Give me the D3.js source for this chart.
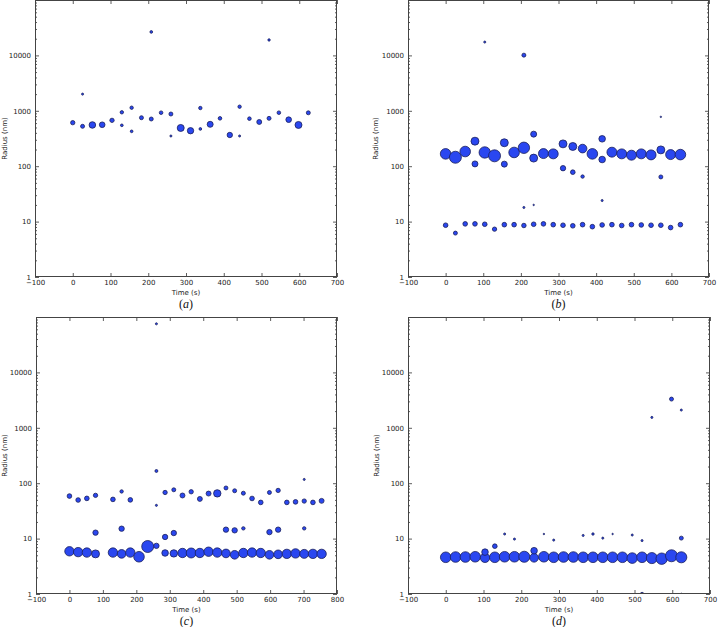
<!DOCTYPE html>
<html>
<head>
<meta charset="utf-8">
<script src="https://cdn.jsdelivr.net/npm/d3@7"></script>
<style>
  body { margin: 0; background: #fff; }
  svg { display: block; }
  .tick text { font-family: "DejaVu Sans", sans-serif; font-size: 7px; fill: #222; }
  .tick line { stroke: #333; stroke-width: 0.8; }
</style>
</head>
<body>
<script>
// times (s), radius (nm) and marker weight (relative intensity) per panel

// panel (a)
var aTime   = [0, 26, 26, 52, 78, 104, 130, 130, 156, 156, 182, 208, 208, 234, 260, 260, 286, 312, 338, 338, 364, 390, 416, 442, 442, 468, 494, 520, 520, 546, 572, 598, 624];
var aRadius = [610, 525, 2000, 555, 560, 673, 940, 547, 1137, 426, 750, 26500, 711, 924, 875, 351, 490, 437, 1122, 470, 570, 731, 366, 1186, 351, 721, 628, 19000, 731, 924, 692, 555, 920];
var aWeight = [13, 11, 3, 30, 22, 13, 8, 5, 8, 5, 11, 5, 11, 9, 11, 3, 34, 28, 8, 5, 25, 9, 20, 8, 3, 9, 17, 4, 11, 9, 22, 34, 11];

// panel (b)
var bTime   = [0, 26, 52, 78, 78, 104, 104, 130, 156, 156, 182, 208, 208, 208, 234, 234, 234, 260, 286, 312, 312, 338, 338, 364, 364, 390, 416, 416, 416, 442, 468, 494, 520, 546, 572, 572, 572, 598, 624,
               0, 26, 52, 78, 104, 130, 156, 182, 208, 234, 260, 286, 312, 338, 364, 390, 416, 442, 468, 494, 520, 546, 572, 598, 624];
var bRadius = [167, 145, 184, 283, 110, 177, 17400, 154, 265, 109, 177, 215, 10100, 18, 379, 140, 20, 169, 167, 253, 92, 227, 78, 208, 65, 167, 312, 132, 24, 179, 167, 158, 167, 160, 197, 64, 777, 162, 162,
               8.6, 6.2, 9.1, 9.1, 8.95, 7.3, 8.8, 8.8, 8.5, 8.95, 9.1, 8.8, 8.6, 8.4, 8.8, 8.1, 8.7, 8.8, 8.5, 8.8, 8.7, 8.6, 8.6, 7.8, 8.8];
var bWeight = [78, 100, 78, 44, 25, 90, 3, 100, 44, 25, 78, 90, 11, 3, 25, 44, 1.5, 69, 69, 44, 20, 44, 15, 52, 8, 78, 30, 30, 3, 69, 69, 69, 69, 69, 44, 11, 1.5, 69, 78,
               15, 11, 15, 15, 15, 13, 15, 15, 14, 15, 15, 15, 15, 15, 15, 15, 15, 15, 15, 15, 15, 15, 15, 15, 15];

// panel (c)
var cTime   = [0, 26, 52, 78, 130, 156, 182, 208, 234, 260, 286, 312, 338, 364, 390, 416, 442, 468, 494, 520, 546, 572, 598, 624, 650, 676, 702, 728, 754,
               78, 156, 286, 312, 468, 494, 520, 598, 624, 702,
               0, 26, 52, 78, 130, 156, 182, 260, 260, 260, 286, 312, 338, 364, 390, 416, 442, 468, 494, 520, 546, 572, 598, 624, 650, 676, 702, 702, 728, 754];
var cRadius = [5.9, 5.7, 5.6, 5.3, 5.6, 5.3, 5.6, 4.7, 7.2, 7.4, 5.5, 5.4, 5.5, 5.5, 5.5, 5.8, 5.6, 5.4, 5.1, 5.5, 5.6, 5.5, 5.1, 5.2, 5.3, 5.4, 5.3, 5.3, 5.3,
               12.8, 15.1, 10.7, 12.6, 14.5, 14.1, 15.3, 13.1, 14.5, 15.3,
               58.6, 49.7, 53.2, 60.3, 51, 71, 50, 75300, 166, 39.8, 68, 76, 60, 70, 52, 65, 65.5, 82, 73, 66, 53, 45, 68, 74, 45, 46, 47.6, 117, 45, 48];
var cWeight = [61, 61, 61, 44, 61, 52, 61, 78, 100, 20, 30, 38, 61, 69, 61, 61, 61, 52, 52, 61, 61, 61, 52, 52, 61, 61, 56, 61, 61,
               20, 20, 20, 20, 20, 20, 8, 20, 20, 8,
               15, 15, 15, 13, 15, 8, 15, 3, 6, 3, 13, 11, 17, 13, 17, 17, 38, 11, 11, 11, 15, 15, 11, 13, 15, 15, 13, 3, 15, 17];

// panel (d)
var dTime   = [0, 26, 52, 78, 104, 130, 156, 182, 208, 234, 260, 286, 312, 338, 364, 390, 416, 442, 468, 494, 520, 546, 572, 598, 624,
               104, 130, 234,
               156, 182, 260, 286, 364, 390, 416, 442, 494, 520, 624,
               546, 598, 624, 520, 624];
var dRadius = [4.6, 4.65, 4.65, 4.7, 4.5, 4.6, 4.7, 4.7, 4.7, 4.5, 4.7, 4.6, 4.65, 4.65, 4.6, 4.6, 4.6, 4.6, 4.6, 4.45, 4.6, 4.45, 4.34, 4.9, 4.6,
               5.7, 7.3, 6.05,
               12.1, 9.8, 12.1, 9.4, 11.4, 12.1, 10.2, 12.1, 11.6, 9.2, 10.2,
               1540, 3300, 2090, 1, 1];
var dWeight = [78, 78, 78, 78, 61, 78, 78, 78, 85, 52, 78, 78, 78, 78, 78, 78, 78, 78, 78, 78, 78, 85, 90, 100, 85,
               30, 15, 30,
               3, 3, 1.5, 3, 3, 4, 3, 1.5, 3, 3, 11,
               3, 11, 3, 8, 2];

var xTicks = [-100, 0, 100, 200, 300, 400, 500, 600, 700];
var xTicksC = [-100, 0, 100, 200, 300, 400, 500, 600, 700, 800];
var yTicks = [1, 10, 100, 1000, 10000];

var panels = [
  {letter: 'a', t: aTime, r: aRadius, w: aWeight, xt: xTicks,  left: 35,  right: 337, top: 0,   bottom: 277, labelX: 4},
  {letter: 'b', t: bTime, r: bRadius, w: bWeight, xt: xTicks,  left: 408, right: 709, top: 0,   bottom: 277, labelX: 375},
  {letter: 'c', t: cTime, r: cRadius, w: cWeight, xt: xTicksC, left: 36,  right: 337, top: 317, bottom: 594, labelX: 4},
  {letter: 'd', t: dTime, r: dRadius, w: dWeight, xt: xTicks,  left: 408, right: 710, top: 317, bottom: 594, labelX: 376}
];

var width = 721, height = 627;

var svg = d3.select('body').append('svg')
  .attr('width', width)
  .attr('height', height);

svg.append('rect').attr('width', width).attr('height', height).attr('fill', '#fff');

var size = d3.scaleSqrt().domain([0, 100]).range([0, 6]);

// minor ticks for the log axis
var minor = [];
yTicks.concat([100000]).forEach(function(p) {
  if (p >= 100000) return;
  for (var k = 2; k < 10; k++) minor.push(p * k);
});

function fmt(d) {
  return d < 0 ? '\u2212' + Math.abs(d) : String(d);
}

panels.forEach(function(p, idx) {
  var x = d3.scaleLinear()
    .domain([p.xt[0], p.xt[p.xt.length - 1]])
    .range([p.left, p.right]);
  var y = d3.scaleLog()
    .domain([1, 100000])
    .range([p.bottom, p.top]);

  var g = svg.append('g');
  var w = p.right - p.left, h = p.bottom - p.top;

  g.append('clipPath').attr('id', 'clip' + idx)
    .append('rect').attr('x', p.left).attr('y', p.top).attr('width', w).attr('height', h);

  var pts = p.t.map(function(t, i) { return {t: t, r: p.r[i], w: p.w[i]}; });

  g.append('g')
    .attr('clip-path', 'url(#clip' + idx + ')')
    .selectAll('circle')
    .data(pts)
    .enter().append('circle')
      .attr('cx', function(d) { return x(d.t); })
      .attr('cy', function(d) { return y(d.r); })
      .attr('r', function(d) { return size(d.w); })
      .attr('fill', '#2a47f0')
      .attr('stroke', '#1a1f5a')
      .attr('stroke-width', 0.8);

  // axes, ticks pointing inward on all sides
  var bx = g.append('g').attr('transform', 'translate(0,' + p.bottom + ')')
    .call(d3.axisBottom(x).tickValues(p.xt).tickSizeInner(-4).tickSizeOuter(0).tickPadding(3.5).tickFormat(fmt));
  var tx = g.append('g').attr('transform', 'translate(0,' + p.top + ')')
    .call(d3.axisTop(x).tickValues(p.xt).tickSizeInner(-4).tickSizeOuter(0).tickFormat(''));
  var ly = g.append('g').attr('transform', 'translate(' + p.left + ',0)')
    .call(d3.axisLeft(y).tickValues(yTicks).tickSizeInner(-4).tickSizeOuter(0).tickPadding(4).tickFormat(d3.format('d')));
  var lym = g.append('g').attr('transform', 'translate(' + p.left + ',0)')
    .call(d3.axisLeft(y).tickValues(minor).tickSizeInner(-2).tickSizeOuter(0).tickFormat(''));
  var ry = g.append('g').attr('transform', 'translate(' + p.right + ',0)')
    .call(d3.axisRight(y).tickValues(yTicks).tickSizeInner(-4).tickSizeOuter(0).tickFormat(''));
  var rym = g.append('g').attr('transform', 'translate(' + p.right + ',0)')
    .call(d3.axisRight(y).tickValues(minor).tickSizeInner(-2).tickSizeOuter(0).tickFormat(''));

  [bx, tx, ly, lym, ry, rym].forEach(function(a) { a.select('.domain').remove(); });

  g.append('rect')
    .attr('x', p.left + 0.5).attr('y', p.top + 0.5)
    .attr('width', w - 1).attr('height', h - 1)
    .attr('fill', 'none')
    .attr('stroke', '#444')
    .attr('stroke-width', 1);

  var cx = (p.left + p.right) / 2;

  g.append('text')
    .attr('x', cx).attr('y', p.bottom + 18)
    .attr('text-anchor', 'middle')
    .style('font-family', '"DejaVu Sans", sans-serif')
    .style('font-size', '7px')
    .attr('fill', '#222')
    .text('Time (s)');

  g.append('text')
    .attr('transform', 'translate(' + (p.labelX + 2.5) + ',' + (p.top + h / 2) + ') rotate(-90)')
    .attr('text-anchor', 'middle')
    .style('font-family', '"DejaVu Sans", sans-serif')
    .style('font-size', '7px')
    .attr('fill', '#222')
    .text('Radius (nm)');

  var cap = g.append('text')
    .attr('x', cx).attr('y', p.bottom + 31)
    .attr('text-anchor', 'middle')
    .style('font-family', '"Liberation Serif", serif')
    .style('font-size', '12px')
    .attr('fill', '#111');
  cap.append('tspan').text('(');
  cap.append('tspan').style('font-style', 'italic').text(p.letter);
  cap.append('tspan').text(')');
});
</script>
</body>
</html>
